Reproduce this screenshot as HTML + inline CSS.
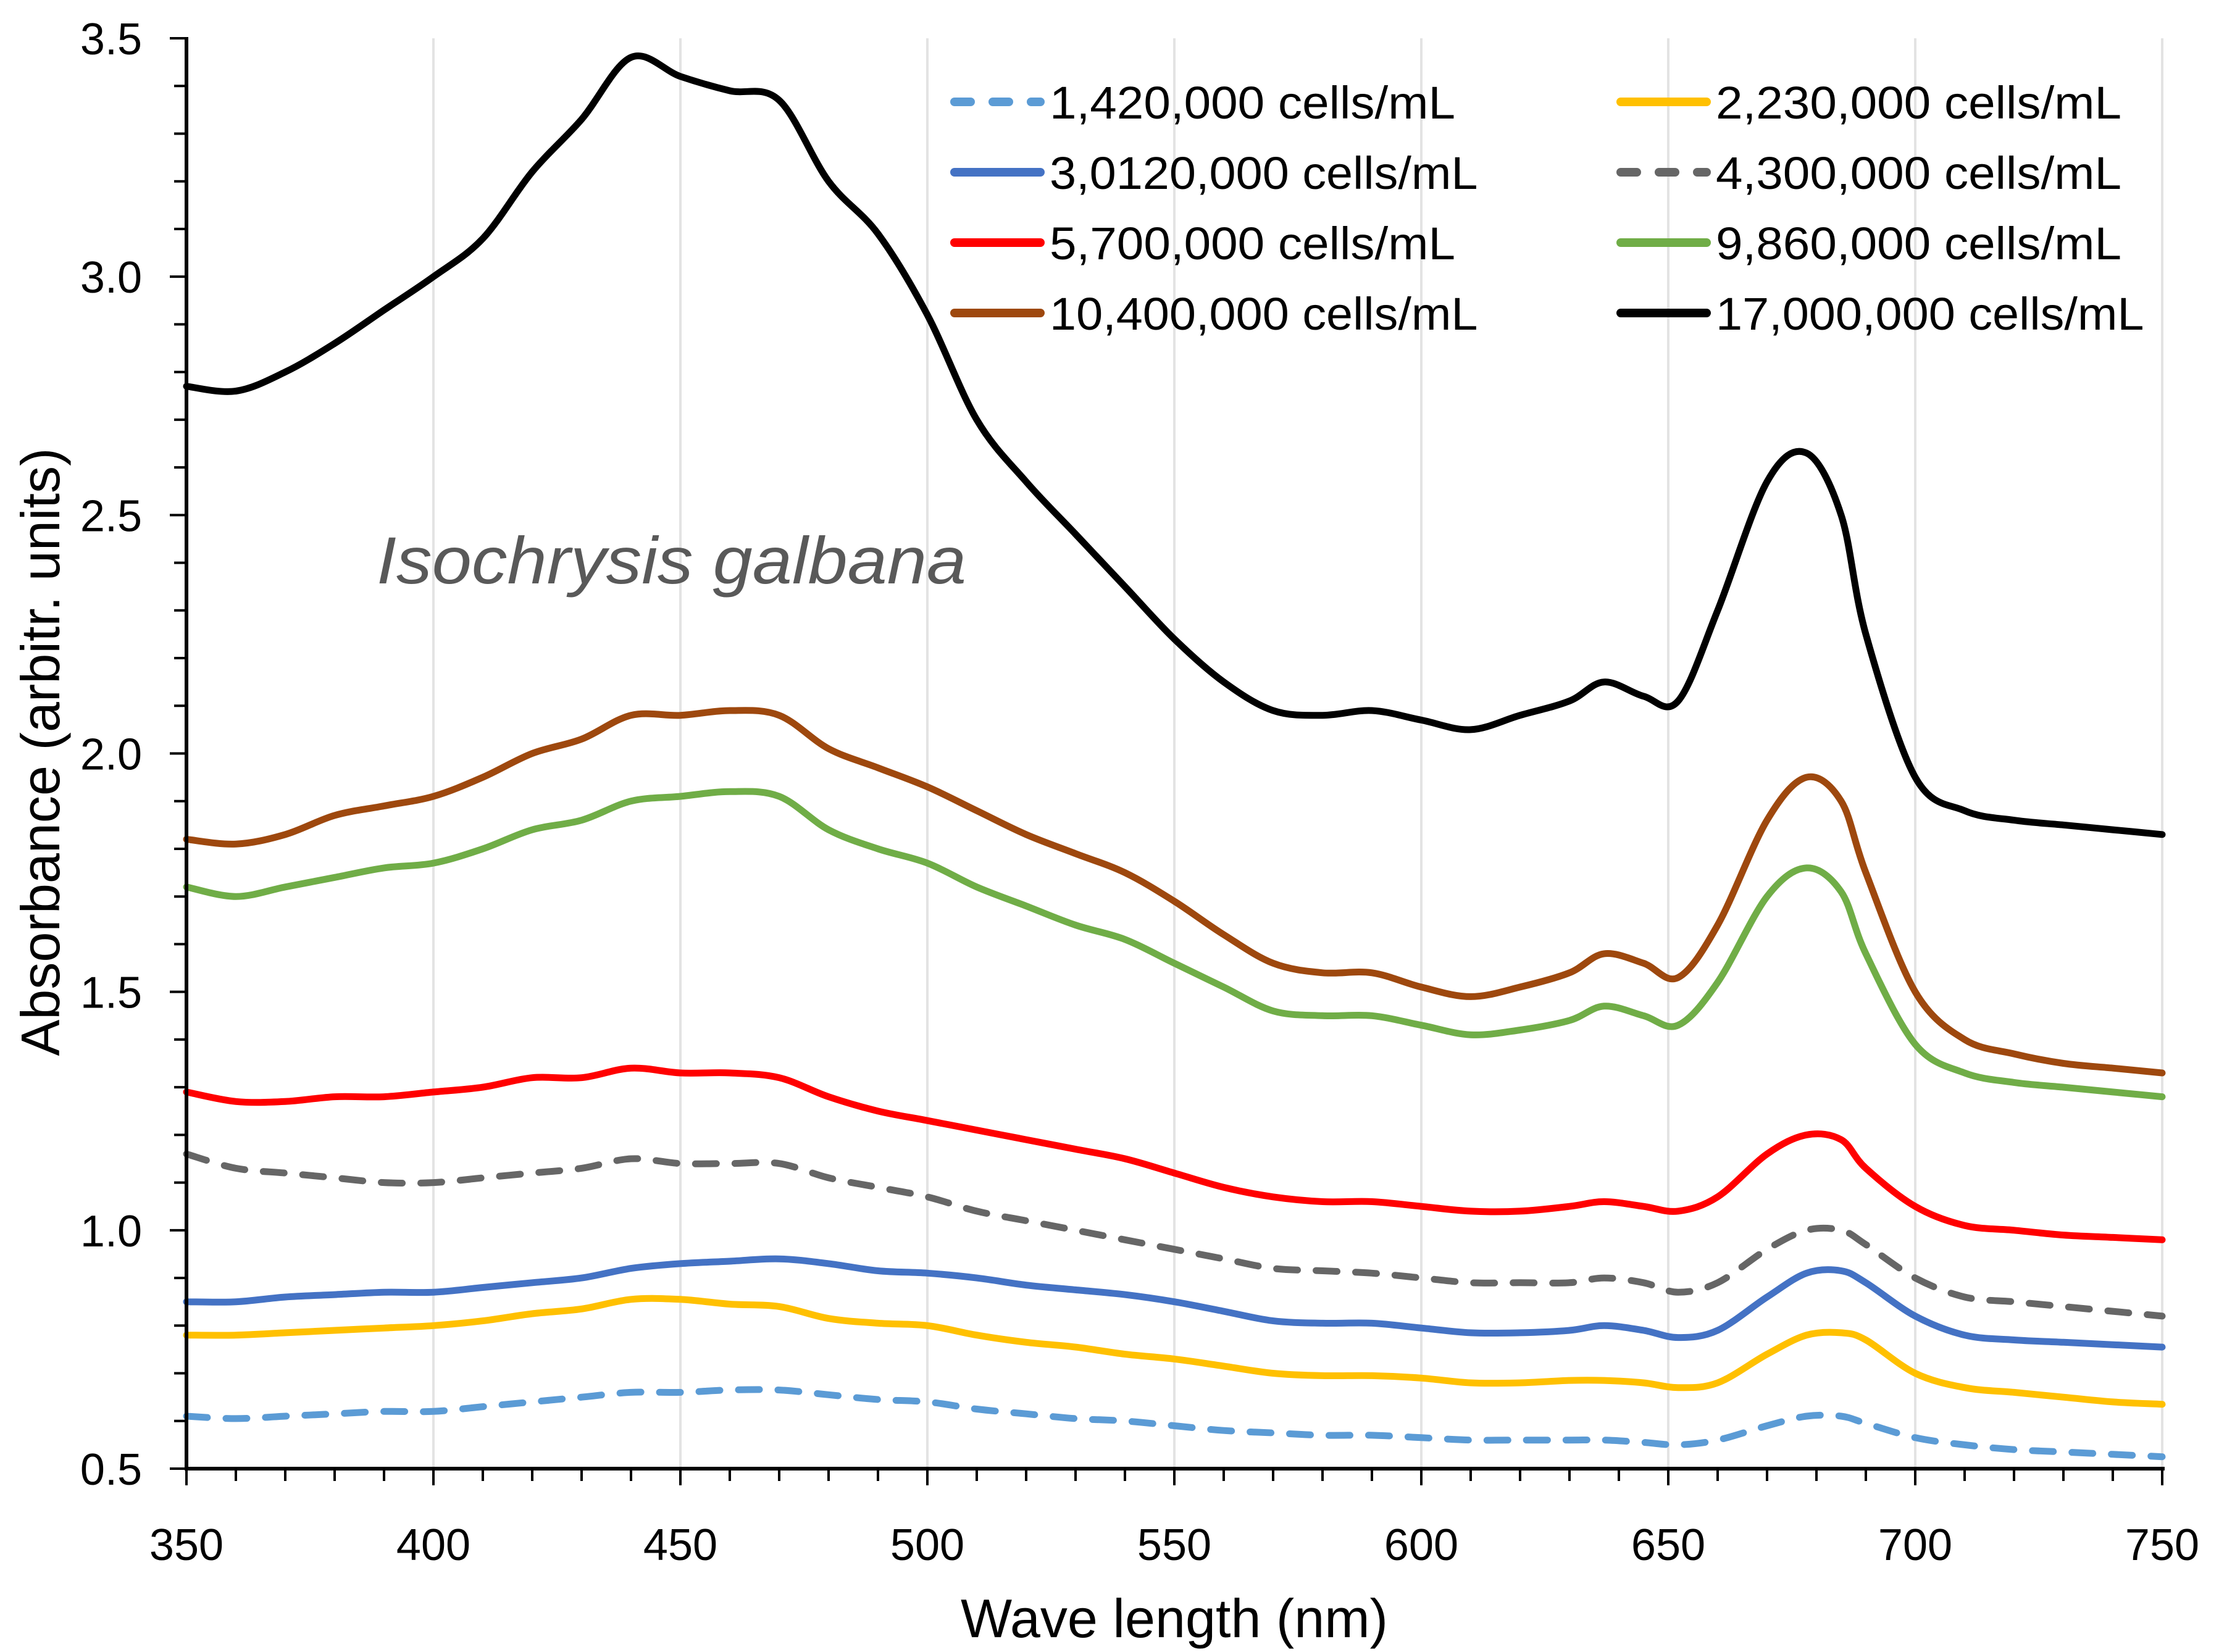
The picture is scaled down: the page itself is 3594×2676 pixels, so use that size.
<!DOCTYPE html>
<html><head><meta charset="utf-8"><style>
html,body{margin:0;padding:0;background:#fff;}
svg{display:block;font-family:"Liberation Sans",sans-serif;}
</style></head><body>
<svg id="chart" width="3594" height="2676" viewBox="0 0 3594 2676" xmlns="http://www.w3.org/2000/svg">
<g id="grid"></g>
<g id="series"></g>
<g id="axes"></g>
<g id="legend"></g>
<text x="610" y="945" font-size="108" font-style="italic" fill="#595959" textLength="955" lengthAdjust="spacingAndGlyphs">Isochrysis galbana</text>
<text x="1902" y="2652" font-size="88" text-anchor="middle" fill="#000" textLength="692" lengthAdjust="spacingAndGlyphs">Wave length (nm)</text>
<text transform="translate(96,1218) rotate(-90)" font-size="88" text-anchor="middle" fill="#000" textLength="985" lengthAdjust="spacingAndGlyphs">Absorbance (arbitr. units)</text>
</svg>
<script>
const wavelengths=[350,360,370,380,390,400,410,420,430,440,450,460,470,480,490,500,510,520,530,540,550,560,570,580,590,600,610,620,630,637,645,652,660,670,678,685,690,700,710,720,730,740,750];
const s17000=[2.77,2.76,2.80,2.86,2.93,3.00,3.08,3.22,3.33,3.46,3.42,3.39,3.37,3.20,3.09,2.92,2.70,2.57,2.46,2.35,2.24,2.15,2.09,2.08,2.09,2.07,2.05,2.08,2.11,2.15,2.12,2.11,2.30,2.57,2.63,2.50,2.25,1.95,1.88,1.86,1.85,1.84,1.83];
const s10400=[1.82,1.81,1.83,1.87,1.89,1.91,1.95,2.00,2.03,2.08,2.08,2.09,2.08,2.01,1.97,1.93,1.88,1.83,1.79,1.75,1.69,1.62,1.56,1.54,1.54,1.51,1.49,1.51,1.54,1.58,1.56,1.53,1.64,1.86,1.95,1.90,1.75,1.50,1.40,1.37,1.35,1.34,1.33];
const s9860=[1.72,1.70,1.72,1.74,1.76,1.77,1.80,1.84,1.86,1.90,1.91,1.92,1.91,1.84,1.80,1.77,1.72,1.68,1.64,1.61,1.56,1.51,1.46,1.45,1.45,1.43,1.41,1.42,1.44,1.47,1.45,1.43,1.52,1.70,1.76,1.71,1.58,1.39,1.33,1.31,1.30,1.29,1.28];
const s5700=[1.29,1.27,1.27,1.28,1.28,1.29,1.30,1.32,1.32,1.34,1.33,1.33,1.32,1.28,1.25,1.23,1.21,1.19,1.17,1.15,1.12,1.09,1.07,1.06,1.06,1.05,1.04,1.04,1.05,1.06,1.05,1.04,1.07,1.16,1.20,1.19,1.13,1.05,1.01,1.00,0.99,0.985,0.98];
const s4300=[1.16,1.13,1.12,1.11,1.10,1.10,1.11,1.12,1.13,1.15,1.14,1.14,1.14,1.11,1.09,1.07,1.04,1.02,1.00,0.98,0.96,0.94,0.92,0.915,0.91,0.90,0.89,0.89,0.89,0.90,0.89,0.87,0.89,0.96,1.00,1.00,0.97,0.90,0.86,0.85,0.84,0.83,0.82];
const s3012=[0.85,0.85,0.86,0.865,0.87,0.87,0.88,0.89,0.90,0.92,0.93,0.935,0.94,0.93,0.915,0.91,0.90,0.885,0.875,0.865,0.85,0.83,0.81,0.805,0.805,0.795,0.785,0.785,0.79,0.80,0.79,0.775,0.79,0.86,0.91,0.915,0.89,0.82,0.78,0.77,0.765,0.76,0.755];
const s2230=[0.78,0.78,0.785,0.79,0.795,0.80,0.81,0.825,0.835,0.855,0.855,0.845,0.84,0.815,0.805,0.80,0.78,0.765,0.755,0.74,0.73,0.715,0.70,0.695,0.695,0.69,0.68,0.68,0.685,0.685,0.68,0.67,0.68,0.74,0.78,0.785,0.77,0.70,0.67,0.66,0.65,0.64,0.635];
const s1420=[0.61,0.605,0.61,0.615,0.62,0.62,0.63,0.64,0.65,0.66,0.66,0.665,0.665,0.655,0.645,0.64,0.625,0.615,0.605,0.60,0.59,0.58,0.575,0.57,0.57,0.565,0.56,0.56,0.56,0.56,0.555,0.55,0.56,0.59,0.61,0.61,0.595,0.565,0.55,0.54,0.535,0.53,0.525];
const xTicks=[350,400,450,500,550,600,650,700,750];
const yTicks=[0.5,1.0,1.5,2.0,2.5,3.0,3.5];
const legendLabels=["1,420,000 cells/mL","2,230,000 cells/mL","3,0120,000 cells/mL","4,300,000 cells/mL","5,700,000 cells/mL","9,860,000 cells/mL","10,400,000 cells/mL","17,000,000 cells/mL"];

const NS="http://www.w3.org/2000/svg";
const X0=302,X1=3502,Y0=2379,Y1=62;
function xs(v){return X0+(v-350)/400*(X1-X0);}
function ys(v){return Y0-(v-0.5)/3*(Y0-Y1);}
function mk(tag,attrs,parent){const e=document.createElementNS(NS,tag);for(const k in attrs)e.setAttribute(k,attrs[k]);parent.appendChild(e);return e;}
const grid=document.getElementById('grid'),axes=document.getElementById('axes'),ser=document.getElementById('series'),leg=document.getElementById('legend');

xTicks.forEach(t=>{ if(t===350) return;
  const g=mk('line',{x1:xs(t),x2:xs(t),y1:Y1,y2:Y0,stroke:'#e3e3e3','stroke-width':4},grid);
  
  
});
for(let v=350;v<=750;v+=10){
  const major=(v%50===0);
  const t=mk('line',{x1:xs(v),x2:xs(v),y1:Y0,y2:Y0+(major?27:20),stroke:'#000','stroke-width':4},axes);
  
  
}
for(let i=0;i<=30;i++){
  const v=0.5+i*0.1; const major=(i%5===0);
  const t=mk('line',{x1:X0-(major?27:20),x2:X0,y1:ys(v),y2:ys(v),stroke:'#000','stroke-width':4},axes);
  
  
}
xTicks.forEach(t=>{
  const e=mk('text',{x:xs(t),y:2527,'font-size':72,'text-anchor':'middle',fill:'#000'},axes);e.textContent=t;
  
  
});
yTicks.forEach(t=>{
  const e=mk('text',{x:230,y:ys(t)+26,'font-size':72,'text-anchor':'end',fill:'#000'},axes);e.textContent=t.toFixed(1);
  
  
});
const ax=mk('path',{d:`M${X0},${Y1-2}V${Y0}H${X1+4}`,fill:'none',stroke:'#000','stroke-width':6},axes);



function smooth(vals){
  const p=wavelengths.map((w,i)=>[xs(w),ys(vals[i])]);
  let d=`M${p[0][0].toFixed(1)},${p[0][1].toFixed(1)}`;
  for(let i=0;i<p.length-1;i++){
    const a=p[Math.max(0,i-1)],b=p[i],c=p[i+1],e=p[Math.min(p.length-1,i+2)];
    const c1=[b[0]+(c[0]-a[0])/6,b[1]+(c[1]-a[1])/6],c2=[c[0]-(e[0]-b[0])/6,c[1]-(e[1]-b[1])/6];
    d+=`C${c1[0].toFixed(1)},${c1[1].toFixed(1)} ${c2[0].toFixed(1)},${c2[1].toFixed(1)} ${c[0].toFixed(1)},${c[1].toFixed(1)}`;
  }
  return d;
}
const seriesList=[
 [s1420,'#5b9bd5',true,'series-1420000'],
 [s2230,'#ffc000',false,'series-2230000'],
 [s3012,'#4472c4',false,'series-3012000'],
 [s4300,'#666666',true,'series-4300000'],
 [s5700,'#ff0000',false,'series-5700000'],
 [s9860,'#70ad47',false,'series-9860000'],
 [s10400,'#9e480e',false,'series-10400000'],
 [s17000,'#000000',false,'series-17000000']];
seriesList.forEach((s,i)=>{
  const at={d:smooth(s[0]),fill:'none',stroke:s[1],'stroke-width':11,'stroke-linejoin':'round','stroke-linecap':'round'};
  if(s[2]) at['stroke-dasharray']='34 30';
  const p=mk('path',at,ser);
  
  
  const col=i%2,row=Math.floor(i/2);
  const lx=col?2619:1540, ly=165+row*114;
  const la={x1:lx+6,x2:lx+145,y1:ly,y2:ly,stroke:s[1],'stroke-width':14,'stroke-linecap':'round'};
  if(s[2]) la['stroke-dasharray']='26 36';
  const l=mk('line',la,leg);
  
  
  const lab=legendLabels[i];
  const w=lab.length*36.5;
  const t=mk('text',{x:lx+160,y:ly+27,'font-size':74,fill:'#000',textLength:w,lengthAdjust:'spacingAndGlyphs'},leg);
  t.textContent=lab;
  
  
});
</script>
</body></html>
